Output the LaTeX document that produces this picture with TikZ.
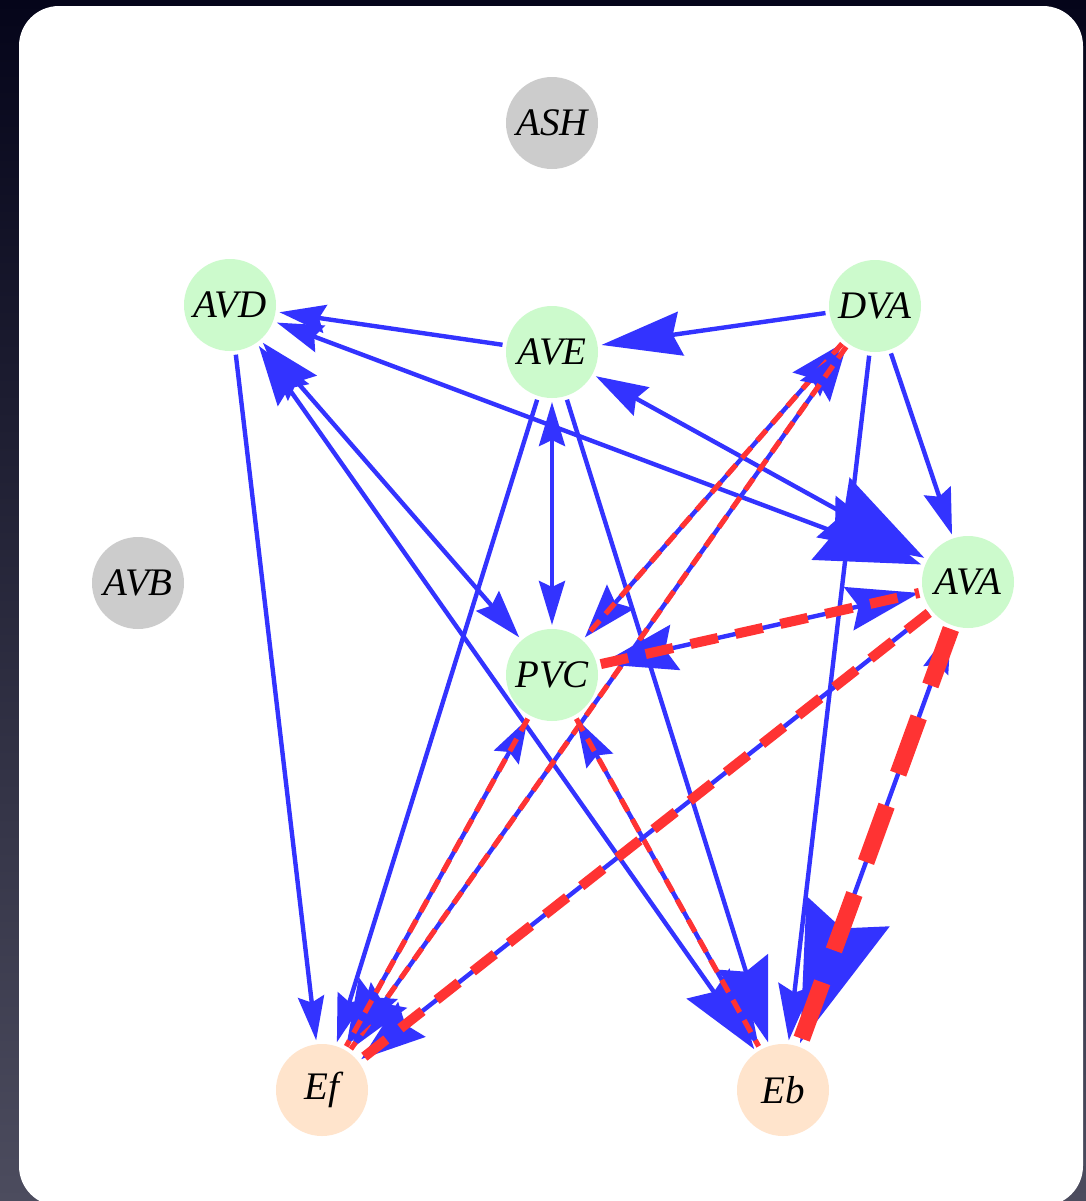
\documentclass[tikz,border=0pt]{standalone}
\usepackage{fontspec}
\setmainfont{Liberation Serif}
\usetikzlibrary{arrows.meta}
\definecolor{eblue}{HTML}{3333FF}
\definecolor{ered}{HTML}{FF3333}
\definecolor{ngreen}{HTML}{CCFACC}
\definecolor{ngray}{HTML}{CCCCCC}
\definecolor{npeach}{HTML}{FFE4CC}
\definecolor{bgtop}{HTML}{05051A}
\definecolor{bgbot}{HTML}{4C4C5E}
\tikzset{
  nd/.style={circle, minimum size=46pt, inner sep=0pt, outer sep=2pt,
    font=\fontsize{19.5}{19.5}\selectfont\itshape},
  ngr/.style={nd, fill=ngreen},
  ngy/.style={nd, fill=ngray},
  npc/.style={nd, fill=npeach},
  e/.style={draw=eblue, line width=2.2pt},
  rthin/.style={draw=ered, line width=2.6pt, dash pattern=on 7pt off 4.5pt},
  rmed/.style={draw=ered, line width=5pt, dash pattern=on 14pt off 9pt},
  rthick/.style={draw=ered, line width=8.5pt, dash pattern=on 30pt off 17pt},
}
\begin{document}
\begin{tikzpicture}[x=0.5pt,y=-0.5pt]
\useasboundingbox (0,0) rectangle (1086,1201);
\shade[top color=bgtop, bottom color=bgbot] (0,0) rectangle (1086,1201);
\fill[white, rounded corners=20pt] (19,6) rectangle (1083,1206);

\node[ngy] (ASH) at (552,123) {ASH};
\node[ngr] (AVD) at (230,305) {AVD};
\node[ngr] (AVE) at (552,352) {AVE};
\node[ngr] (DVA) at (875,306) {DVA};
\node[ngy] (AVB) at (138,583) {AVB};
\node[ngr] (AVA) at (968,582) {AVA};
\node[ngr] (PVC) at (552,675) {PVC};
\node[npc] (Ef) at (322,1090) {Ef};
\node[npc] (Eb) at (783,1090) {Eb};

% blue edges
\draw[e, -{Stealth[length=23pt,width=14pt,inset=3pt]}] (AVE) -- (AVD);
\draw[e, -{Stealth[length=40pt,width=22pt,inset=4pt]}] (DVA) -- (AVE);
\draw[e, {Stealth[length=23pt,width=14pt,inset=3pt]}-{Stealth[length=52pt,width=34pt,inset=6pt]}] (AVD) -- (AVA);
\draw[e, {Stealth[length=26pt,width=16pt,inset=3pt]}-{Stealth[length=52pt,width=34pt,inset=6pt]}] (AVE) -- (AVA);
\draw[e, {Stealth[length=30pt,width=19pt,inset=4pt]}-{Stealth[length=24pt,width=15pt,inset=3pt]}] (AVD) -- (PVC);
\draw[e, {Stealth[length=30pt,width=19pt,inset=4pt]}-{Stealth[length=40pt,width=26pt,inset=5pt]}] (AVD) -- (Eb);
\draw[e, -{Stealth[length=22pt,width=13pt,inset=3pt]}] (AVD) -- (Ef);
\draw[e, {Stealth[length=22pt,width=13pt,inset=3pt]}-{Stealth[length=22pt,width=13pt,inset=3pt]}] (AVE) -- (PVC);
\draw[e, -{Stealth[length=24pt,width=14pt,inset=3pt]}] (AVE) -- (Ef);
\draw[e, -{Stealth[length=42pt,width=26pt,inset=5pt]}] (AVE) -- (Eb);
\draw[e, -{Stealth[length=23pt,width=14pt,inset=3pt]}] (DVA) -- (AVA);
\draw[e, -{Stealth[length=28pt,width=17pt,inset=4pt]}] (DVA) -- (Eb);

% highlighted edges
\draw[e, {Stealth[length=27pt,width=18pt,inset=4pt]}-{Stealth[length=27pt,width=18pt,inset=4pt]}] (DVA) -- (PVC);
\draw[rthin] (DVA) -- (PVC);
\draw[e, {Stealth[length=27pt,width=18pt,inset=4pt]}-{Stealth[length=33pt,width=22pt,inset=5pt]}] (DVA) -- (Ef);
\draw[rthin] (DVA) -- (Ef);
\draw[e, {Stealth[length=22pt,width=14pt,inset=3pt]}-{Stealth[length=33pt,width=22pt,inset=5pt]}] (PVC) -- (Ef);
\draw[rthin] (PVC) -- (Ef);
\draw[e, {Stealth[length=24pt,width=15pt,inset=3pt]}-{Stealth[length=30pt,width=19pt,inset=4pt]}] (PVC) -- (Eb);
\draw[rthin] (PVC) -- (Eb);
\draw[e, {Stealth[length=38pt,width=23pt,inset=5pt]}-{Stealth[length=36pt,width=22pt,inset=5pt]}] (PVC) -- (AVA);
\draw[rmed] (PVC) -- (AVA);
\draw[e, -{Stealth[length=32pt,width=22pt,inset=4pt]}] (AVA) -- (Ef);
\draw[rmed] (AVA) -- (Ef);
\draw[e, {Stealth[length=22pt,width=13pt,inset=3pt]}-{Stealth[length=70pt,width=44pt,inset=9pt]}] (AVA) -- (Eb);
\draw[rthick] (AVA) -- (Eb);
\end{tikzpicture}
\end{document}
